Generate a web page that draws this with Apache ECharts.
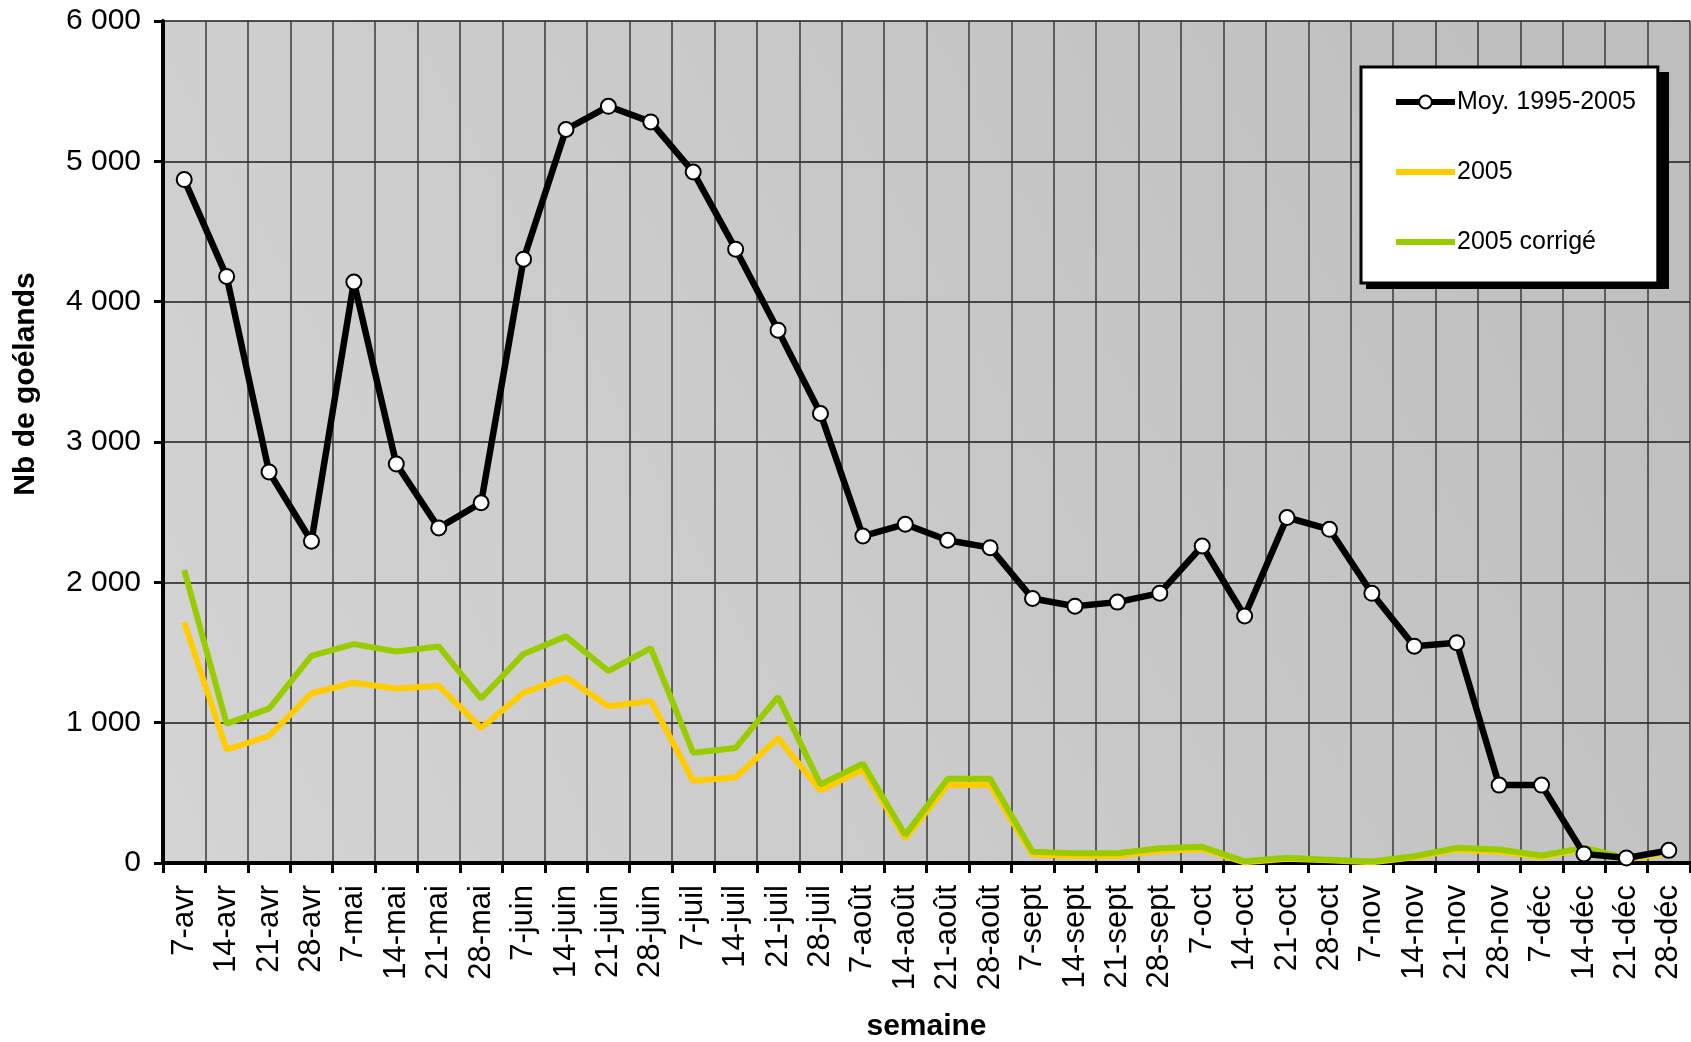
<!DOCTYPE html>
<html>
<head>
<meta charset="utf-8">
<script src="https://cdn.jsdelivr.net/npm/echarts@6/dist/echarts.min.js"></script>
<style>
  html, body { margin: 0; padding: 0; background: #fff; }
  #chart { width: 1691px; height: 1042px; }
</style>
</head>
<body>
<div id="chart"></div>
<script>
// semaines
var weeks = ['7-avr', '14-avr', '21-avr', '28-avr', '7-mai', '14-mai', '21-mai', '28-mai',
  '7-juin', '14-juin', '21-juin', '28-juin', '7-juil', '14-juil', '21-juil', '28-juil',
  '7-août', '14-août', '21-août', '28-août', '7-sept', '14-sept', '21-sept', '28-sept',
  '7-oct', '14-oct', '21-oct', '28-oct', '7-nov', '14-nov', '21-nov', '28-nov',
  '7-déc', '14-déc', '21-déc', '28-déc'];

// Moy. 1995-2005
var moyenne = [4870, 4180, 2787, 2293, 4140, 2844, 2388, 2567, 4303, 5227, 5392, 5281,
  4924, 4374, 3797, 3203, 2330, 2414, 2300, 2247, 1885, 1830, 1859, 1923,
  2259, 1760, 2462, 2378, 1922, 1545, 1570, 555, 555, 65, 36, 90];

// 2005
var an2005 = [1715, 808, 905, 1208, 1285, 1244, 1263, 962, 1213, 1323, 1117, 1155,
  586, 610, 890, 518, 666, 175, 555, 555, 60, 50, 50, 85,
  100, 5, 30, 20, 5, 40, 95, 80, 45, 100, 25, 75];

// 2005 corrigé
var an2005corr = [2088, 993, 1100, 1476, 1560, 1507, 1543, 1172, 1490, 1615, 1368, 1531,
  785, 820, 1184, 560, 708, 200, 600, 600, 80, 70, 70, 105,
  115, 12, 38, 24, 10, 48, 108, 96, 53, 108, 36, 84];

var yTicks = [0, 1000, 2000, 3000, 4000, 5000, 6000];

var font = "'Liberation Sans', Arial, sans-serif";

function milliers(v) {
  return String(v).replace(/\B(?=(\d{3})+(?!\d))/g, ' ');
}

var myChart = echarts.init(document.getElementById('chart'));
var option = {
  backgroundColor: '#fff',
  animation: false,
  textStyle: { fontFamily: font, color: '#000' },
  grid: {
    left: 163,
    right: 1,
    top: 21,
    bottom: 179,
    outerBoundsMode: 'none',
    containLabel: false,
    show: true,
    borderWidth: 0,
    backgroundColor: new echarts.graphic.LinearGradient(0, 1, 1, 0, [
      { offset: 0, color: '#d4d4d4' },
      { offset: 1, color: '#bdbdbd' }
    ])
  },
  legend: {
    orient: 'vertical',
    left: 1361,
    top: 67,
    z: 10,
    padding: [20, 22, 26, 32],
    itemGap: 40,
    itemWidth: 59,
    itemHeight: 16,
    backgroundColor: '#fff',
    borderColor: '#000',
    borderWidth: 3,
    textStyle: {
      fontFamily: font,
      fontSize: 25,
      lineHeight: 30,
      color: '#000',
      padding: [0, 0, 0, -3]
    },
    data: [
      { name: 'Moy. 1995-2005', lineStyle: { width: 6 } },
      { name: '2005', lineStyle: { width: 6 }, itemStyle: { opacity: 0 } },
      { name: '2005 corrigé', lineStyle: { width: 6 }, itemStyle: { opacity: 0 } }
    ]
  },
  xAxis: {
    type: 'category',
    data: weeks,
    boundaryGap: true,
    name: 'semaine',
    nameLocation: 'middle',
    nameGap: 149,
    nameTextStyle: { fontFamily: font, fontSize: 30, fontWeight: 'bold', color: '#000' },
    axisLine: { lineStyle: { color: '#000', width: 4 } },
    axisTick: { show: true, length: 10, lineStyle: { color: '#000', width: 3 } },
    axisLabel: {
      rotate: 90,
      interval: 0,
      margin: 22,
      fontFamily: font,
      fontSize: 31,
      color: '#000'
    },
    splitLine: { show: true, interval: 0, lineStyle: { color: '#3a3a3a', width: 1.5 } }
  },
  yAxis: {
    type: 'value',
    min: yTicks[0],
    max: yTicks[yTicks.length - 1],
    interval: 1000,
    axisLine: { show: true, lineStyle: { color: '#000', width: 4 } },
    axisTick: { show: true, length: 9, lineStyle: { color: '#000', width: 3 } },
    axisLabel: {
      margin: 22,
      fontFamily: font,
      fontSize: 30,
      color: '#000',
      formatter: milliers
    },
    splitLine: { show: true, lineStyle: { color: '#1a1a1a', width: 1.5 } }
  },
  graphic: [
    {
      // ombre portée de la légende
      type: 'rect',
      z: 5,
      shape: { x: 1366, y: 72, width: 303, height: 217 },
      style: { fill: '#000' }
    },
    {
      type: 'text',
      x: 26,
      y: 384,
      rotation: Math.PI / 2,
      style: {
        text: 'Nb de goélands',
        font: 'bold 30px ' + font,
        fill: '#000',
        align: 'center',
        verticalAlign: 'middle'
      }
    }
  ],
  series: [
    {
      name: '2005',
      type: 'line',
      data: an2005,
      symbol: 'none',
      z: 2,
      lineStyle: { color: '#ffcc00', width: 6 },
      itemStyle: { color: '#ffcc00' }
    },
    {
      name: '2005 corrigé',
      type: 'line',
      data: an2005corr,
      symbol: 'none',
      z: 3,
      lineStyle: { color: '#99cc00', width: 6 },
      itemStyle: { color: '#99cc00' }
    },
    {
      name: 'Moy. 1995-2005',
      type: 'line',
      data: moyenne,
      symbol: 'circle',
      symbolSize: 15,
      z: 4,
      lineStyle: { color: '#000', width: 6.5 },
      itemStyle: { color: '#fff', borderColor: '#000', borderWidth: 2 }
    }
  ]
};
myChart.setOption(option);
</script>
</body>
</html>
